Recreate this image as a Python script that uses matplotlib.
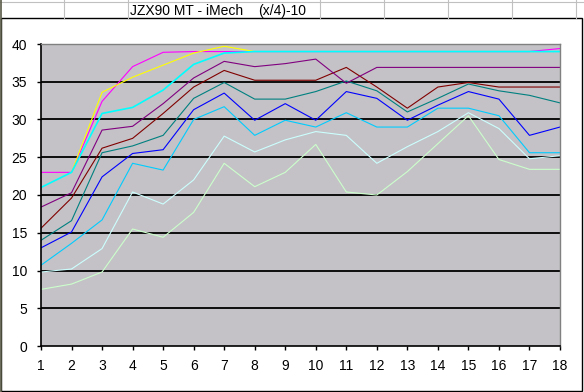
import matplotlib
matplotlib.use('Agg')
import matplotlib.pyplot as plt
from matplotlib.lines import Line2D
from matplotlib.patches import Rectangle
import numpy as np

plt.rcParams['font.family'] = ['Liberation Sans', 'DejaVu Sans']

W, H = 584, 392

# --- data ---
x = list(range(1, 19))
nan = np.nan

magenta = [23.0, 23.0, 32.4, 37.0, 38.9, 39.0, 39.0, 39.0, 39.0, 39.0, 39.0, 39.0,
           39.0, 39.0, 39.0, 39.0, 39.0, 39.4]
yellow = [nan, 23.0, 33.6, 35.6, 37.2, 38.8, 39.7, 39.0, nan, nan, nan, nan,
          nan, nan, nan, nan, nan, nan]
purple = [18.4, 20.3, 28.6, 29.1, 32.1, 35.5, 37.7, 37.0, 37.4, 38.0, 34.8, 36.9,
          36.9, 36.9, 36.9, 36.9, 36.9, 36.9]
darkred = [15.6, 19.6, 26.2, 27.5, 30.8, 34.3, 36.5, 35.2, 35.2, 35.2, 36.9, 34.3,
           31.5, 34.3, 34.9, 34.3, 34.3, 34.3]
teal = [14.0, 16.6, 25.6, 26.5, 27.9, 32.8, 34.9, 32.7, 32.7, 33.7, 35.1, 33.8,
        31.0, 32.8, 34.7, 33.8, 33.2, 32.2]
blue = [13.0, 15.1, 22.4, 25.5, 26.0, 31.3, 33.5, 29.9, 32.1, 29.9, 33.7, 32.8,
        29.9, 31.9, 33.7, 32.7, 27.9, 29.0]
skyblue = [10.7, 13.6, 16.7, 24.2, 23.3, 30.0, 31.7, 27.9, 29.9, 29.0, 30.9, 29.0,
           29.0, 31.5, 31.5, 30.5, 25.6, 25.6]
lightcyan = [9.8, 10.2, 12.9, 20.4, 18.8, 22.0, 27.8, 25.7, 27.3, 28.4, 27.9, 24.2,
             26.4, 28.4, 30.9, 28.8, 24.8, 25.2]
lightgreen = [7.5, 8.2, 9.8, 15.5, 14.4, 17.7, 24.2, 21.1, 23.0, 26.7, 20.4, 20.0,
              23.1, 26.8, 30.5, 24.7, 23.4, 23.4]
cyan = [21.0, 23.0, 30.8, 31.6, 33.9, 37.3, 38.8, 39.0, 39.0, 39.0, 39.0, 39.0,
        39.0, 39.0, 39.0, 39.0, 39.0, 39.0]

series = [
    (lightgreen, '#CCFFCC', 0.8),
    (lightcyan, '#CCFFFF', 0.8),
    (skyblue, '#00CCFF', 0.8),
    (blue, '#0000FF', 0.8),
    (teal, '#008080', 0.8),
    (darkred, '#800000', 0.8),
    (purple, '#800080', 0.8),
    (magenta, '#FF00FF', 0.8),
    (yellow, '#FFFF00', 0.8),
    (cyan, '#00FFFF', 1.2),
]

fig = plt.figure(figsize=(W / 100, H / 100), dpi=100)


def fx(px):
    return px / W


def fy(py):
    return 1 - py / H


# spreadsheet header row behind the chart
fig.add_artist(Line2D([0, 1], [fy(1.5), fy(1.5)], color='#c0c0c0', lw=0.8))
for cx in [64, 128, 320, 384, 448, 512, 576]:
    fig.add_artist(Line2D([fx(cx), fx(cx)], [fy(0), fy(18)], color='#c0c0c0', lw=0.8))
fig.text(fx(130), fy(11), 'JZX90 MT - iMech', fontsize=10, va='center', ha='left')
fig.text(fx(258), fy(11), '(x/4)-10', fontsize=10, va='center', ha='left')

# chart frame
fig.add_artist(Rectangle((fx(1), fy(391)), fx(581), (391 - 18) / H,
                         facecolor='none', edgecolor='black', lw=1.0))
fig.add_artist(Line2D([fx(0.7), fx(0.7)], [0, 1], color='#5a5a48', lw=1.2))

# plot area
ax = fig.add_axes([fx(41), fy(346), (560 - 41) / W, (346 - 44) / H])
ax.set_facecolor('#c4c2c6')
for vals, col, lw in series:
    ax.plot(x, vals, color=col, lw=lw)

ax.set_xlim(1, 18)
ax.set_ylim(0, 40)
ax.set_xticks(x)
ax.set_yticks(range(0, 41, 5))
for gy in range(5, 40, 5):
    ax.axhline(gy, color='black', lw=1.3, zorder=0.5)

for s in ['left', 'bottom']:
    ax.spines[s].set_color('black')
    ax.spines[s].set_linewidth(1.2)
for s in ['top', 'right']:
    ax.spines[s].set_color('#808080')
    ax.spines[s].set_linewidth(1.0)

ax.tick_params(axis='both', direction='out', length=3, width=1, labelsize=10, colors='black')
ax.tick_params(axis='x', pad=6)
ax.tick_params(axis='y', pad=7)

fig.savefig('out.png', dpi=100)
